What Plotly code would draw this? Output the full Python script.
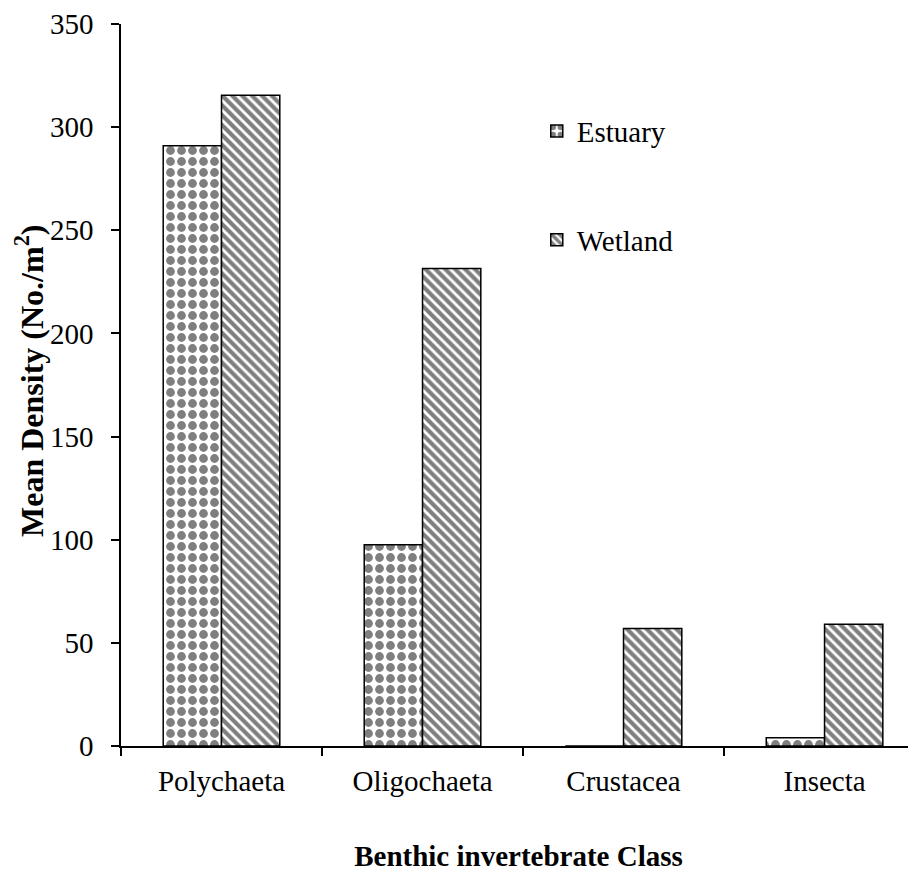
import plotly.graph_objects as go

# data
classes = ['Polychaeta', 'Oligochaeta', 'Crustacea', 'Insecta']
estuary = [291, 97.5, 0, 4]
wetland = [315.5, 231.5, 57, 59]
y_ticks = [0, 50, 100, 150, 200, 250, 300, 350]

FONT = 'Liberation Serif, Times New Roman, serif'

fig = go.Figure()
fig.add_trace(go.Bar(
    x=classes, y=estuary, name='Estuary', legendgroup='e',
    marker=dict(color='white', line=dict(color='black', width=1.5),
                pattern=dict(shape='.', size=11, solidity=0.5,
                             fgcolor='black', bgcolor='white')),
))
fig.add_trace(go.Bar(
    x=classes, y=wetland, name='Wetland', legendgroup='w',
    marker=dict(color='white', line=dict(color='black', width=1.5),
                pattern=dict(shape='\\', size=7, solidity=0.6,
                             fgcolor='black', bgcolor='white')),
))

# y title as a rotated annotation so it can sit where the reference has it
fig.add_annotation(
    text='<b>Mean Density (No./m<sup>2</sup>)</b>', textangle=-90,
    xref='paper', yref='paper', x=-0.115, y=0.505,
    xanchor='center', yanchor='middle', showarrow=False,
    font=dict(size=32),
)

# page adds an 8px body margin, so the figure is drawn 8px smaller
fig.update_layout(
    width=908, height=864,
    margin=dict(l=113, r=0, t=13, b=126),
    plot_bgcolor='white', paper_bgcolor='white',
    font=dict(family=FONT, size=29, color='black'),
    barmode='group', bargap=0.42, bargroupgap=0,
    legend=dict(x=0.523, y=0.887, xanchor='left', yanchor='top',
                font=dict(size=29), tracegroupgap=68,
                bgcolor='rgba(0,0,0,0)'),
    xaxis=dict(
        range=[-0.5, 3.455], showline=True, linecolor='black', linewidth=1.5,
        ticks='outside', tickson='boundaries', ticklen=8, tickcolor='black',
        tickwidth=1.5, showgrid=False, ticklabelstandoff=8,
        title=dict(text='<b>Benthic invertebrate Class</b>', standoff=53,
                   font=dict(size=29)),
    ),
    yaxis=dict(
        range=[0, 350], tickvals=y_ticks, showline=True, linecolor='black',
        linewidth=1.5, ticks='outside', ticklen=8, tickcolor='black',
        tickwidth=1.5, showgrid=False, zeroline=False, ticklabelstandoff=12,
        ticklabeloverflow='allow',
    ),
)

fig.write_html("out.html")
